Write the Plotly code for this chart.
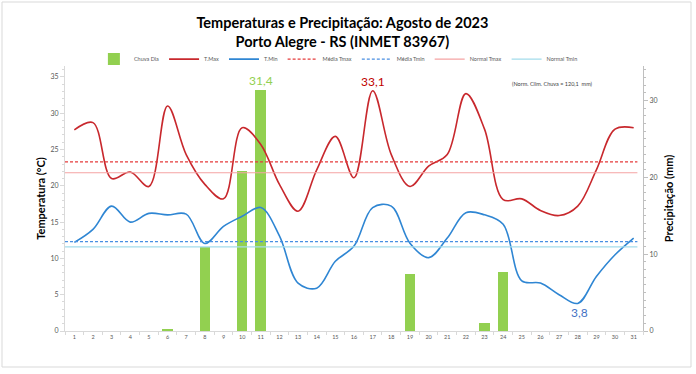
import plotly.graph_objects as go

days = list(range(1, 32))
chuva = [0, 0, 0, 0, 0, 0.2, 0, 11.0, 0, 20.8, 31.4, 0, 0, 0, 0, 0,
         0, 0, 7.4, 0, 0, 0, 1.0, 7.7, 0, 0, 0, 0, 0, 0, 0]
tmax = [27.7, 28.7, 21.0, 21.9, 19.9, 31.0, 24.3, 20.2, 18.2, 28.0, 25.7, 20.2, 16.5, 22.2, 26.8, 21.1,
        33.1, 24.3, 19.9, 22.7, 24.3, 32.7, 27.8, 18.1, 18.2, 16.6, 15.9, 17.2, 22.2, 27.8, 28.0]
tmin = [12.2, 14.0, 17.2, 15.0, 16.2, 16.0, 16.1, 12.05, 14.4, 15.8, 17.0, 13.1, 6.6, 5.9, 9.6, 11.7,
        17.0, 17.2, 12.1, 10.1, 12.8, 16.3, 16.0, 14.7, 6.9, 6.6, 5.0, 3.8, 7.5, 10.5, 12.8]
media_tmax = 23.3
media_tmin = 12.3
normal_tmax = 21.8
normal_tmin = 11.6
line_x = [0.5, 31.2]

FONT = "Lato"
fig = go.Figure()

fig.add_trace(go.Bar(x=days, y=chuva, name="Chuva Dia", marker=dict(color="#92D050", line=dict(width=0)),
                     width=0.57, yaxis="y"))
fig.add_trace(go.Scatter(x=days, y=tmax, name="T.Max", mode="lines",
                         line=dict(color="#C8282D", width=1.6, shape="spline", smoothing=1), yaxis="y2"))
fig.add_trace(go.Scatter(x=days, y=tmin, name="T.Min", mode="lines",
                         line=dict(color="#2F86D3", width=1.6, shape="spline", smoothing=1), yaxis="y2"))
fig.add_trace(go.Scatter(x=line_x, y=[media_tmax] * 2, name="Média Tmax", mode="lines",
                         line=dict(color="#E53B3B", width=1.3, dash="3px,2px"), yaxis="y2"))
fig.add_trace(go.Scatter(x=line_x, y=[media_tmin] * 2, name="Média Tmin", mode="lines",
                         line=dict(color="#4A8FE2", width=1.3, dash="3px,2px"), yaxis="y2"))
fig.add_trace(go.Scatter(x=line_x, y=[normal_tmax] * 2, name="Normal Tmax", mode="lines",
                         line=dict(color="#F5A3A3", width=1.2), yaxis="y2"))
fig.add_trace(go.Scatter(x=line_x, y=[normal_tmin] * 2, name="Normal Tmin", mode="lines",
                         line=dict(color="#A3DCEB", width=1.2), yaxis="y2"))

axis_font = dict(family=FONT, size=7, color="#595959")
fig.update_layout(
    width=696, height=374,
    margin=dict(l=65, r=53, t=66, b=43, autoexpand=False),
    paper_bgcolor="white", plot_bgcolor="white",
    font=dict(family=FONT),
    showlegend=True,
    bargap=0,
    title=dict(text="<b>Temperaturas e Precipitação: Agosto de 2023<br>Porto Alegre - RS (INMET 83967)</b>",
               x=0.492, xanchor="center", y=0.925, yanchor="middle",
               font=dict(family=FONT, size=14.5, color="black")),
    legend=dict(orientation="h", x=0.05, xanchor="left", y=1.026, yanchor="middle",
                font=dict(family=FONT, size=5.5, color="#595959"),
                itemwidth=30, bgcolor="rgba(0,0,0,0)", traceorder="normal"),
    xaxis=dict(range=[0.5, 31.5], tickmode="array", tickvals=days, ticktext=[str(d) for d in days],
               tickfont=dict(family=FONT, size=5.5, color="#595959"), ticks="", showline=True,
               linecolor="#D9D9D9", linewidth=1, showgrid=False, zeroline=False, automargin=False,
               minor=dict(tickmode="linear", tick0=0.5, dtick=1, ticks="outside", ticklen=3, tickcolor="#D9D9D9")),
    yaxis=dict(range=[0, 34.5], side="right", tickvals=[0, 10, 20, 30], tickfont=axis_font,
               showline=True, linecolor="#BFBFBF", ticks="outside", ticklen=4, tickcolor="#BFBFBF",
               minor=dict(dtick=1, ticks="outside", ticklen=2, tickcolor="#BFBFBF"),
               showgrid=False, zeroline=False, automargin=False,
               title=dict(text="<b>Precipitação (mm)</b>", font=dict(family=FONT, size=11, color="black"),
                          standoff=8)),
    yaxis2=dict(range=[0, 36.5], side="left", overlaying="y", tickvals=[0, 5, 10, 15, 20, 25, 30, 35],
                tickfont=axis_font, showline=True, linecolor="#D9D9D9", ticks="outside", ticklen=4,
                tickcolor="#D9D9D9", minor=dict(dtick=1, ticks="outside", ticklen=2, tickcolor="#D9D9D9"),
                showgrid=False, zeroline=False, automargin=False,
                title=dict(text="<b>Temperatura (°C)</b>", font=dict(family=FONT, size=11, color="black"),
                           standoff=2)),
)

fig.add_annotation(x=11, y=chuva[10], xref="x", yref="y", text="31,4", showarrow=False,
                   yshift=9, font=dict(family=FONT, size=12, color="#92D050"))
fig.add_annotation(x=17, y=tmax[16], xref="x", yref="y2", text="33,1", showarrow=False,
                   yshift=9, font=dict(family=FONT, size=12, color="#C00000"))
fig.add_annotation(x=28, y=tmin[27], xref="x", yref="y2", text="3,8", showarrow=False,
                   yshift=-9, xshift=2, font=dict(family=FONT, size=12, color="#4472C4"))
fig.add_annotation(x=(552 - 65) / 578, y=0.951, xref="paper", yref="paper", xanchor="center",
                   text="(Norm. Clim. Chuva = 120,1  mm)",
                   showarrow=False, font=dict(family=FONT, size=5.5, color="#404040"))

fig.add_shape(type="rect", xref="paper", yref="paper",
              x0=(2 - 65) / 578, x1=(691 - 65) / 578, y0=(331 - 367) / 265, y1=(331 - 2) / 265,
              line=dict(color="#D9D9D9", width=1), fillcolor="rgba(0,0,0,0)", layer="below")

fig.write_html("out.html", config={"displayModeBar": False},
               post_script="document.body.style.margin='0';")
